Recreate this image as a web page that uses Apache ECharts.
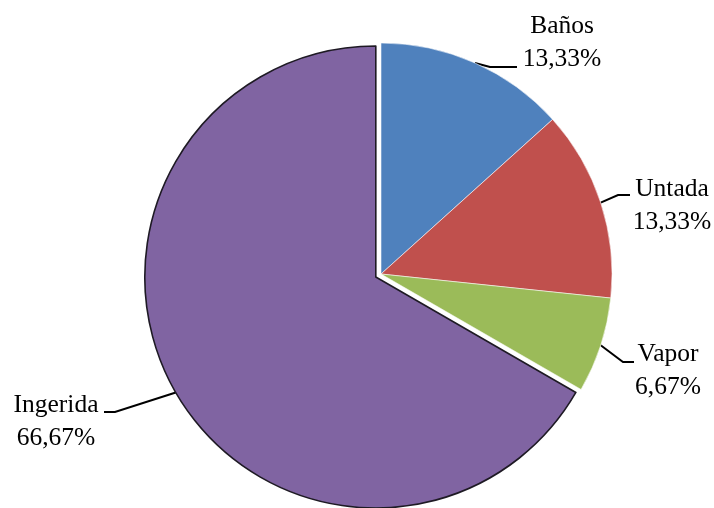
<!DOCTYPE html>
<html>
<head>
<meta charset="utf-8">
<script src="https://cdn.jsdelivr.net/npm/echarts@6/dist/echarts.min.js"></script>
<style>
  html, body { margin: 0; padding: 0; background: #ffffff; }
  #chart { width: 714px; height: 508px; }
</style>
</head>
<body>
<div id="chart"></div>
<script>
// Data
const categories = ['Baños', 'Untada', 'Vapor', 'Ingerida'];
const shares = [13.33, 13.33, 6.67, 66.67];
const colors = ['#4F81BD', '#C0504D', '#9BBB59', '#8064A2'];
const explodedIndex = 3;

// Layout
const center = [381, 274];
const radius = 231;
const explodeOffset = 6;
const font = 'Liberation Serif, "Times New Roman", serif';

// Label boxes (centre of the two-line text) and leader-line bend/end points
const labelPlacement = [
  { x: 562, y: 43,  bend: [490, 67],  end: [517, 67] },
  { x: 672, y: 206, bend: [618, 195], end: [630, 195] },
  { x: 668, y: 371, bend: [623, 362], end: [634, 362] },
  { x: 56,  y: 422, bend: [115, 412], end: [104, 412] }
];

// Centre of the pulled-out slice: shifted along its mid-angle
const total = shares.reduce((a, b) => a + b, 0);
const before = shares.slice(0, explodedIndex).reduce((a, b) => a + b, 0);
const midAngle = 2 * Math.PI * (before + shares[explodedIndex] / 2) / total;
const explodedCenter = [
  center[0] + explodeOffset * Math.sin(midAngle),
  center[1] - explodeOffset * Math.cos(midAngle)
];

const fmt = v => v.toFixed(2).replace('.', ',') + '%';

function buildData(visibleFn) {
  return categories.map((name, i) => {
    const visible = visibleFn(i);
    const isExploded = i === explodedIndex;
    return {
      name: name,
      value: shares[i],
      itemStyle: visible ? {
        color: colors[i],
        borderColor: isExploded ? '#1e1a24' : 'rgba(255,255,255,0.55)',
        borderWidth: isExploded ? 1.6 : 1
      } : { opacity: 0, borderWidth: 0 },
      label: { show: visible },
      labelLine: { show: visible }
    };
  });
}

function placeLabel(params) {
  const p = labelPlacement[params.dataIndex];
  const out = { x: p.x, y: p.y, align: 'center', verticalAlign: 'middle' };
  if (params.labelLinePoints && params.labelLinePoints.length) {
    out.labelLinePoints = [params.labelLinePoints[0], p.bend, p.end];
  }
  return out;
}

const commonSeries = {
  type: 'pie',
  radius: radius,
  startAngle: 90,
  clockwise: true,
  silent: true,
  animation: false,
  avoidLabelOverlap: false,
  emphasis: { disabled: true },
  label: {
    position: 'outside',
    formatter: p => p.name + '\n' + fmt(p.value),
    fontFamily: font,
    fontSize: 25.5,
    lineHeight: 33,
    color: '#000000',
    align: 'center'
  },
  labelLine: {
    show: true,
    length: 10,
    length2: 10,
    lineStyle: { color: '#000000', width: 2 }
  },
  labelLayout: placeLabel
};

const chart = echarts.init(document.getElementById('chart'), null, { renderer: 'canvas' });
chart.setOption({
  backgroundColor: '#ffffff',
  animation: false,
  series: [
    Object.assign({}, commonSeries, {
      center: center,
      data: buildData(i => i !== explodedIndex)
    }),
    Object.assign({}, commonSeries, {
      center: explodedCenter,
      data: buildData(i => i === explodedIndex)
    })
  ]
});
</script>
</body>
</html>
